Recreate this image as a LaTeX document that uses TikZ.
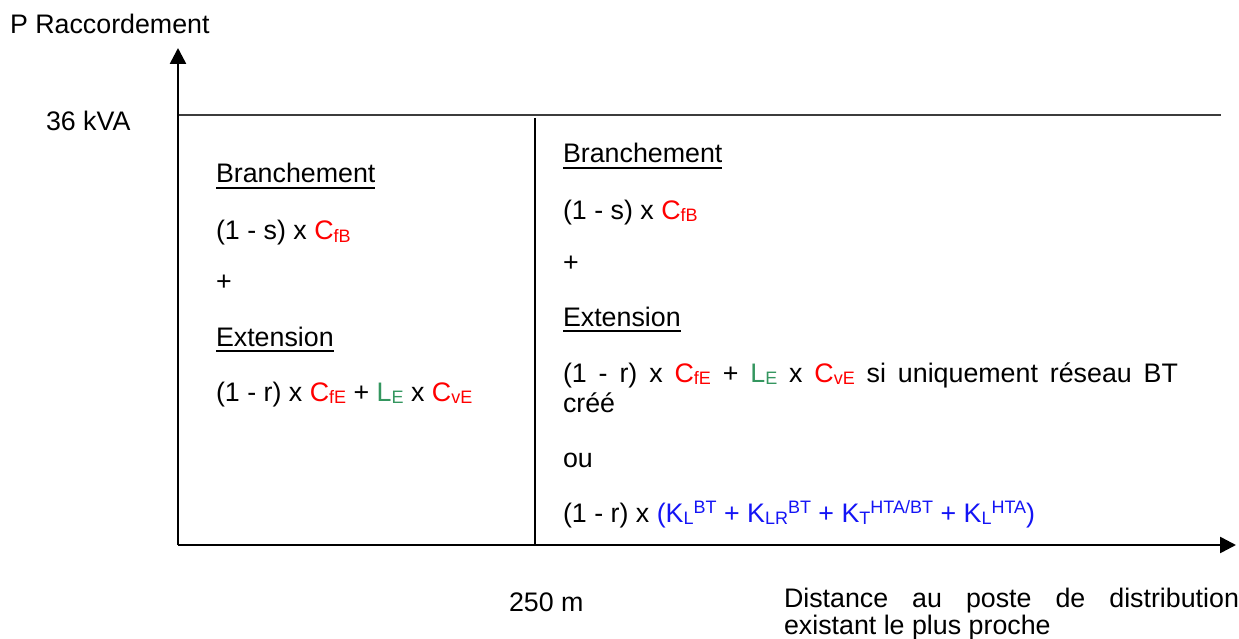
\documentclass[tikz,border=0pt]{standalone}
\usepackage{fontspec}
\setmainfont{Liberation Sans}
\usetikzlibrary{arrows.meta}
\definecolor{cred}{RGB}{255,0,0}
\definecolor{cgreen}{RGB}{52,150,95}
\definecolor{cblue}{RGB}{20,20,245}
\definecolor{lgray}{RGB}{60,60,60}
\newcommand\mysub[1]{\raisebox{-2pt}{\fontsize{18}{20}\selectfont #1}}
\newcommand\mysup[1]{\raisebox{9pt}{\fontsize{18}{20}\selectfont #1}}
\newcommand\myul[1]{\setbox0\hbox{#1}\rlap{\rule[-6pt]{\wd0}{2pt}}\box0}
\newcommand\Cf[1]{\textcolor{cred}{C\mysub{f#1}}}
\newcommand\Cv{\textcolor{cred}{C\mysub{vE}}}
\newcommand\LE{\textcolor{cgreen}{L\mysub{E}}}
\newcommand\Kb[2]{\textcolor{cblue}{K\mysub{#1}\mysup{#2}}}
\begin{document}
\begin{tikzpicture}[x=1pt,y=-1pt,
  txt/.style={anchor=base west,inner sep=0pt,outer sep=0pt,font=\fontsize{26.8}{30}\selectfont},
  axis/.style={line width=2.6pt,-{Triangle[length=16pt,width=16pt]}},
  thin/.style={line width=1.1pt}]
\useasboundingbox (0,0) rectangle (1239,639);
\coordinate (O) at (178,545);
\coordinate (ytip) at (178,48);
\coordinate (xtip) at (1236,545);
\coordinate (hl) at (179,115);
\coordinate (hr) at (1221,115);
\coordinate (vt) at (535,118);
\coordinate (vb) at (535,545);
\draw[thin,lgray] (hl) -- (hr);
\draw[thin] (vt) -- (vb);
\draw[axis] (O) -- (ytip);
\draw[axis] (O) -- (xtip);
% axis labels
\node[txt] (ylab) at (10,34) {P Raccordement};
\node[txt] (kva) at (46,131) {36 kVA};
\node[txt] (dist) at (509,611) {250 m};
\node[txt] (xlab1) at (784,607) {\makebox[455pt][s]{Distance au poste de distribution}};
\node[txt] (xlab2) at (784,634) {existant le plus proche};
% left column
\node[txt] (lb) at (216,183) {\myul{Branchement}};
\node[txt] (ls) at (216,240) {(1 - s) x \Cf{B}};
\node[txt] (lp) at (216,290) {+};
\node[txt] (le) at (216,346) {\myul{Extension}};
\node[txt] (lr) at (216,401) {(1 - r) x \Cf{E} + \LE{} x \Cv};
% right column
\node[txt] (rb) at (563,163) {\myul{Branchement}};
\node[txt] (rs) at (563,219) {(1 - s) x \Cf{B}};
\node[txt] (rp) at (563,271) {+};
\node[txt] (re) at (563,326) {\myul{Extension}};
\node[txt] (rr) at (563,382) {\makebox[615pt][s]{(1 - r) x \Cf{E} + \LE{} x \Cv{} si uniquement réseau BT}};
\node[txt] (rc) at (563,412) {créé};
\node[txt] (ro) at (563,467) {ou};
\node[txt] (rk) at (563,522) {(1 - r) x \textcolor{cblue}{(}\Kb{L}{BT} \textcolor{cblue}{+} \Kb{LR}{BT} \textcolor{cblue}{+} \Kb{T}{HTA/BT} \textcolor{cblue}{+} \Kb{L}{HTA}\textcolor{cblue}{)}};
\end{tikzpicture}
\end{document}
